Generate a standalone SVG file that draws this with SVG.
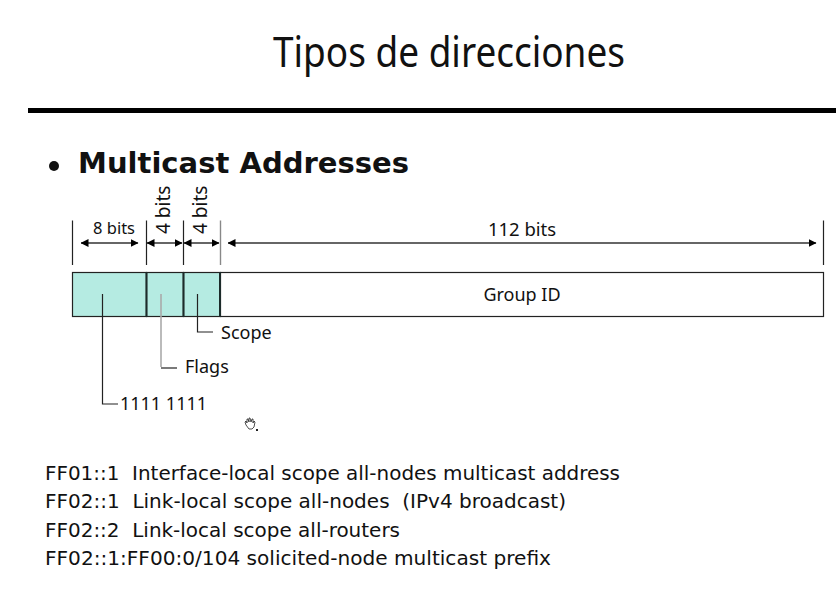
<svg xmlns="http://www.w3.org/2000/svg" width="836" height="605" viewBox="0 0 836 605">
<style>
text{font-family:"Noto Sans","Open Sans","DejaVu Sans",sans-serif;fill:#111}
.lbl{font-size:18px}
.v{font-family:"DejaVu Sans",sans-serif;font-size:19.5px}
.t{fill:none;stroke:#222;stroke-width:1.2}
.d{fill:none;stroke:#333;stroke-width:1.5;marker-start:url(#a);marker-end:url(#b)}
.s{fill:#b5ebe2;stroke:#222;stroke-width:1.2}
.h{fill:none;stroke:#1c2b2a;stroke-width:2}
</style>
<defs>
<marker id="b" viewBox="0 0 8 8" refX="7.5" refY="4" markerWidth="8" markerHeight="8" markerUnits="userSpaceOnUse" orient="auto"><path d="M0 0L8 4L0 8z" fill="#000"/></marker>
<marker id="a" viewBox="0 0 8 8" refX="0.5" refY="4" markerWidth="8" markerHeight="8" markerUnits="userSpaceOnUse" orient="auto"><path d="M8 0L0 4L8 8z" fill="#000"/></marker>
</defs>
<rect width="836" height="605" fill="#fff"/>
<text id="title" x="273" y="67" textLength="352" lengthAdjust="spacingAndGlyphs" style="font-size:41px">Tipos de direcciones</text>
<rect x="28" y="108" width="808" height="5" fill="#000"/>
<circle cx="54" cy="166" r="5" fill="#111"/>
<text x="78" y="173" textLength="331" lengthAdjust="spacingAndGlyphs" style="font-family:'DejaVu Sans',sans-serif;font-size:29px;font-weight:bold">Multicast Addresses</text>
<g id="field-8"><rect class="s" x="72.500" y="272.500" width="74" height="44"/></g>
<g id="field-flags"><rect class="s" x="146.500" y="272.500" width="37" height="44"/></g>
<g id="field-scope"><rect class="s" x="183.500" y="272.500" width="37" height="44"/></g>
<g id="field-group"><rect x="220.500" y="272.500" width="603" height="44" fill="#fff" stroke="#222" stroke-width="1.2"/><text class="lbl" x="522" y="301" text-anchor="middle">Group ID</text></g>
<g id="connectors">
<path class="t" d="M72.500 220.500V265M146.500 220.500V265M183.500 220.500V265M823.500 220.500V265"/>
<path d="M220.500 220.500V265" fill="none" stroke="#888" stroke-width="1.4"/>
<path class="d" d="M81 243H138"/>
<path class="d" d="M147 243H182"/>
<path class="d" d="M184 243H219"/>
<path class="d" d="M228 243H816"/>
<path class="t" d="M102.500 294V404H118"/>
<path d="M161 294V367" fill="none" stroke="#aaa" stroke-width="1.600"/>
<path class="t" d="M161 368H177"/>
<path class="t" d="M197.500 294V332H213"/>
<path class="h" d="M146.500 272V317M183.500 272V317M220 272V317"/>
</g>
<g id="labels">
<text class="lbl" x="114" y="234" text-anchor="middle" style="font-size:16.5px">8 bits</text>
<text class="lbl" x="522" y="236" text-anchor="middle" style="font-size:18.5px">112 bits</text>
<text class="lbl" transform="translate(170 234) rotate(-90)" style="font-size:19px">4 bits</text>
<text class="lbl" transform="translate(207 234) rotate(-90)" style="font-size:19px">4 bits</text>
<text class="lbl" x="221" y="339">Scope</text>
<text class="lbl" x="185" y="373">Flags</text>
<text class="lbl" x="120" y="410" textLength="87">1111 1111</text>
</g>
<path d="M246 425l-1-3 1-1 1 2v-4l1 0 1 3v-4h1l1 4 1-3h1v4l1-2 1 1-1 5-2 2h-3z" fill="#fff" stroke="#222" stroke-width=".8"/>
<rect x="256" y="429" width="2" height="2" fill="#222"/>
<g id="notes">
<text class="v" xml:space="preserve" x="45" y="480" textLength="575" lengthAdjust="spacingAndGlyphs">FF01::1  Interface-local scope all-nodes multicast address</text>
<text class="v" xml:space="preserve" x="45" y="508" textLength="521" lengthAdjust="spacingAndGlyphs">FF02::1  Link-local scope all-nodes  (IPv4 broadcast)</text>
<text class="v" xml:space="preserve" x="45" y="537" textLength="355" lengthAdjust="spacingAndGlyphs">FF02::2  Link-local scope all-routers</text>
<text class="v" x="45" y="565" textLength="506" lengthAdjust="spacingAndGlyphs">FF02::1:FF00:0/104 solicited-node multicast prefix</text>
</g>
</svg>
